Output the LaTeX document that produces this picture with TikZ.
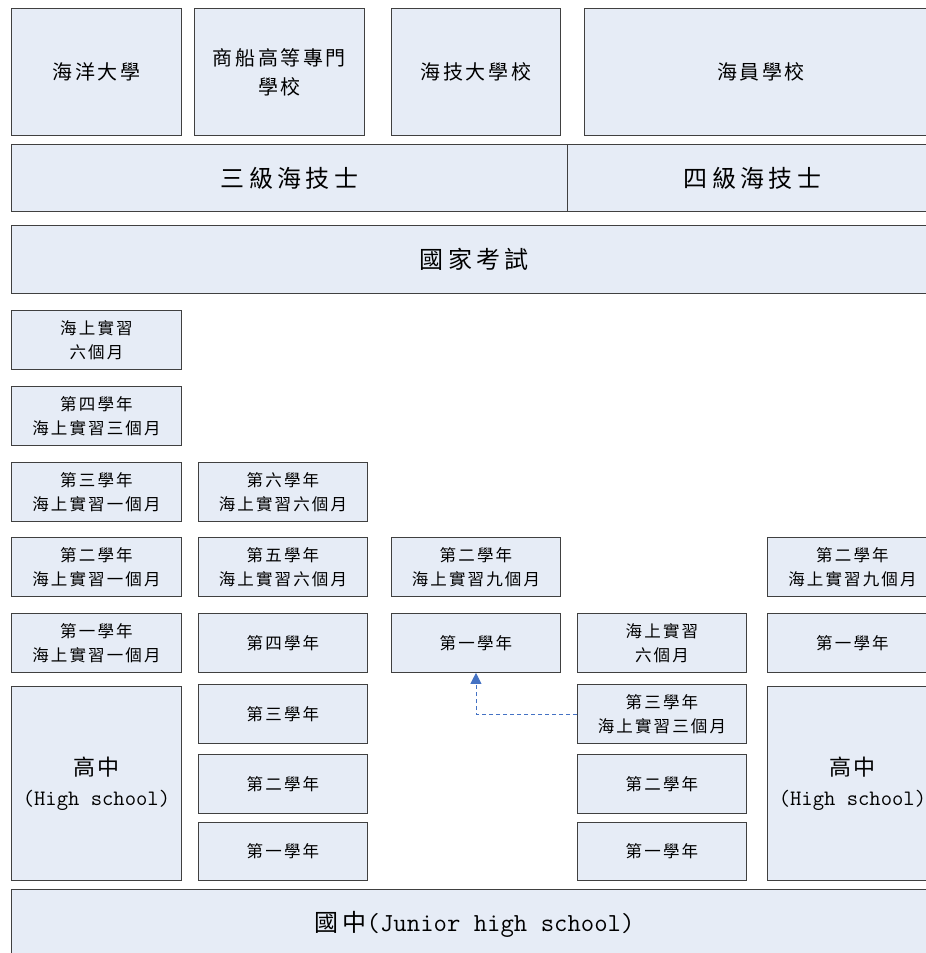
\documentclass[tikz,border=0pt]{standalone}
\usepackage{fontspec}
\usetikzlibrary{arrows.meta}
\newfontfamily\cjk[LetterSpace=13]{Noto Sans CJK TC}
\newfontfamily\cjkwide[LetterSpace=18]{Noto Sans CJK TC}
\definecolor{boxfill}{HTML}{E6ECF6}
\definecolor{boxline}{HTML}{404040}
\definecolor{arrowblue}{HTML}{4472C4}
\tikzset{
  box/.style={draw=boxline, fill=boxfill, line width=0.9pt, inner sep=0pt, align=center, anchor=north west},
  smalltxt/.style={font=\cjk\fontsize{16.5}{24}\selectfont},
  midtxt/.style={font=\cjk\fontsize{20}{29}\selectfont},
  bigtxt/.style={font=\cjkwide\fontsize{24}{30}\selectfont},
  hstxt/.style={font=\cjk\fontsize{22}{30}\selectfont},
  linkarrow/.style={draw=arrowblue, line width=0.8pt, dash pattern=on 4pt off 3pt, -{Triangle[width=11pt,length=11pt]}}
}
\newcommand{\bx}[7]{\node[box,#7, minimum width=#4pt, minimum height=#5pt] (#1) at (#2,#3) {#6};}
\begin{document}
\begin{tikzpicture}[x=1pt,y=-1pt]
\clip (0,0) rectangle (926,953);
\fill[white] (0,0) rectangle (926,953);
% top row
\bx{dy}{11}{8}{170}{127}{海洋大學}{midtxt}
\bx{sc}{194}{8}{170}{127}{商船高等專門\\學校}{midtxt}
\bx{hj}{391}{8}{169}{127}{海技大學校}{midtxt}
\bx{hy}{584}{8}{353}{127}{海員學校}{midtxt}
% row 2, 3
\bx{sanji}{11}{144}{556}{67}{三級海技士}{bigtxt}
\bx{siji}{567}{144}{370}{67}{四級海技士}{bigtxt}
\bx{exam}{11}{225}{926}{68}{國家考試}{bigtxt}
% column 1
\bx{ai}{11}{310}{170}{59}{海上實習\\六個月}{smalltxt}
\bx{aii}{11}{386}{170}{59}{第四學年\\海上實習三個月}{smalltxt}
\bx{aiii}{11}{462}{170}{59}{第三學年\\海上實習一個月}{smalltxt}
\bx{aiv}{11}{537}{170}{59}{第二學年\\海上實習一個月}{smalltxt}
\bx{av}{11}{613}{170}{59}{第一學年\\海上實習一個月}{smalltxt}
\bx{ahs}{11}{686}{170}{194}{高中\\{\ttfamily\fontsize{22}{30}\selectfont (High school)}}{hstxt}
% column 2
\bx{bi}{198}{462}{169}{59}{第六學年\\海上實習六個月}{smalltxt}
\bx{bii}{198}{537}{169}{59}{第五學年\\海上實習六個月}{smalltxt}
\bx{biii}{198}{613}{169}{59}{第四學年}{smalltxt}
\bx{biv}{198}{684}{169}{59}{第三學年}{smalltxt}
\bx{bv}{198}{754}{169}{59}{第二學年}{smalltxt}
\bx{bvi}{198}{822}{169}{58}{第一學年}{smalltxt}
% column 3
\bx{ci}{391}{537}{169}{59}{第二學年\\海上實習九個月}{smalltxt}
\bx{cii}{391}{613}{169}{59}{第一學年}{smalltxt}
% column 4
\bx{di}{577}{613}{169}{59}{海上實習\\六個月}{smalltxt}
\bx{dii}{577}{684}{169}{59}{第三學年\\海上實習三個月}{smalltxt}
\bx{diii}{577}{754}{169}{59}{第二學年}{smalltxt}
\bx{div}{577}{822}{169}{58}{第一學年}{smalltxt}
% column 5
\bx{ei}{767}{537}{170}{59}{第二學年\\海上實習九個月}{smalltxt}
\bx{eii}{767}{613}{170}{59}{第一學年}{smalltxt}
\bx{ehs}{767}{686}{170}{194}{高中\\{\ttfamily\fontsize{22}{30}\selectfont (High school)}}{hstxt}
% bottom
\bx{jh}{11}{889}{926}{70}{國中{\ttfamily\fontsize{26}{30}\selectfont (Junior high school)}}{bigtxt}
% dashed arrow
\draw[linkarrow] (dii.west) -| (cii.south);
\end{tikzpicture}
\end{document}
